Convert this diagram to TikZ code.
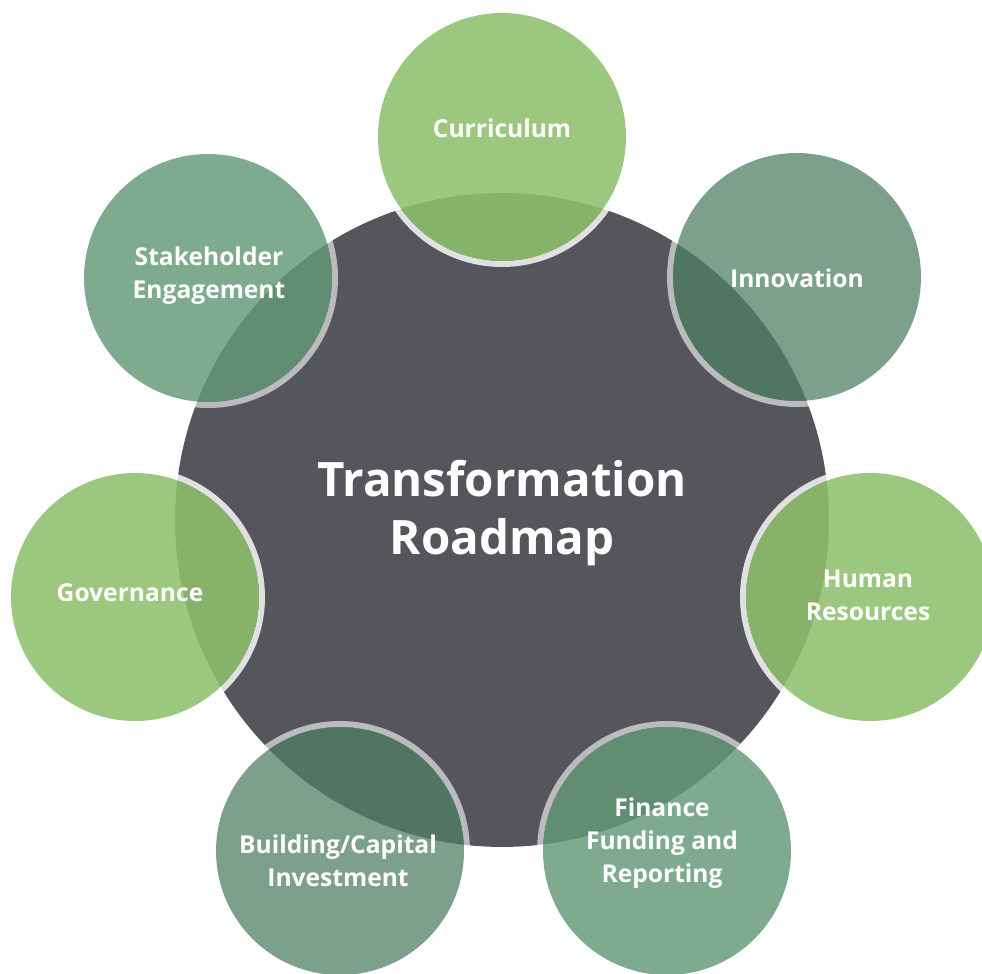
\documentclass[tikz,border=0pt]{standalone}
\usepackage{fontspec}
\setmainfont{Open Sans}
\usepackage{tikz}
\definecolor{my_darkgray}{HTML}{55565B}
\definecolor{my_lightgreen}{HTML}{8DC06C}
\definecolor{my_midgreen}{HTML}{649978}
\definecolor{my_darkgreen}{HTML}{508066}

\begin{document}
\begin{tikzpicture}[
    x=0.02cm, y=-0.02cm,
    light_ring/.style={draw=white, draw opacity=0.82, line width=0.12cm},
    dark_ring/.style={draw=white, draw opacity=0.6, line width=0.12cm},
    light_disc/.style={fill=my_lightgreen, fill opacity=0.88},
    mid_disc/.style={fill=my_midgreen, fill opacity=0.83},
    dark_disc/.style={fill=my_darkgreen, fill opacity=0.75},
    sat_text/.style={text=white, align=center, font=\fontsize{14}{18.8}\selectfont\bfseries},
    title_text/.style={text=white, align=center, font=\fontsize{27}{33.5}\selectfont\bfseries}
]
\useasboundingbox (0,0) rectangle (982,973);

% ---------------------------------------------------------------
%  Hub of radius 327 with seven discs of radius 124 around it,
%  roughly one every 360/7 degrees, starting at the top.
%  Each disc sits on a white ring (radius 127) that only shows
%  where it crosses the hub.
% ---------------------------------------------------------------

\coordinate (hub)    at (502, 520);   %  centre of the hub
\coordinate (cCurr)  at (502, 137);   %  top
\coordinate (cInno)  at (797, 277);
\coordinate (cHR)    at (870, 597);
\coordinate (cFin)   at (667, 851);
\coordinate (cBuild) at (340, 851);
\coordinate (cGov)   at (135, 597);
\coordinate (cStake) at (208, 278);

% ---- Hub ----
\fill[my_darkgray] (hub) circle (6.54cm);

% ---- Rings (under the discs) ----
\draw[light_ring] (cCurr)  circle (2.54cm);
\draw[dark_ring]  (cInno)  circle (2.54cm);
\draw[light_ring] (cHR)    circle (2.54cm);
\draw[dark_ring]  (cFin)   circle (2.54cm);
\draw[dark_ring]  (cBuild) circle (2.54cm);
\draw[light_ring] (cGov)   circle (2.54cm);
\draw[dark_ring]  (cStake) circle (2.54cm);

% ---- Translucent discs ----
\fill[light_disc] (cCurr)  circle (2.48cm);
\fill[dark_disc]  (cInno)  circle (2.48cm);
\fill[light_disc] (cHR)    circle (2.48cm);
\fill[mid_disc]   (cFin)   circle (2.48cm);
\fill[dark_disc]  (cBuild) circle (2.48cm);
\fill[light_disc] (cGov)   circle (2.48cm);
\fill[mid_disc]   (cStake) circle (2.48cm);

% ---- Texts ----
\node[title_text] (title) at (502, 513) {Transformation\\Roadmap};

\node[sat_text] (curriculum)  at (502, 128) {Curriculum};
\node[sat_text] (innovation)  at (797, 278) {Innovation};
\node[sat_text] (humanres)    at (868, 595) {Human\\Resources};
\node[sat_text] (finance)     at (662, 843) {Finance\\Funding and\\Reporting};
\node[sat_text] (building)    at (338, 861) {Building/Capital\\Investment};
\node[sat_text] (governance)  at (130, 593) {Governance};
\node[sat_text] (stakeholder) at (209, 276) {Stakeholder\\Engagement};

\end{tikzpicture}
\end{document}
